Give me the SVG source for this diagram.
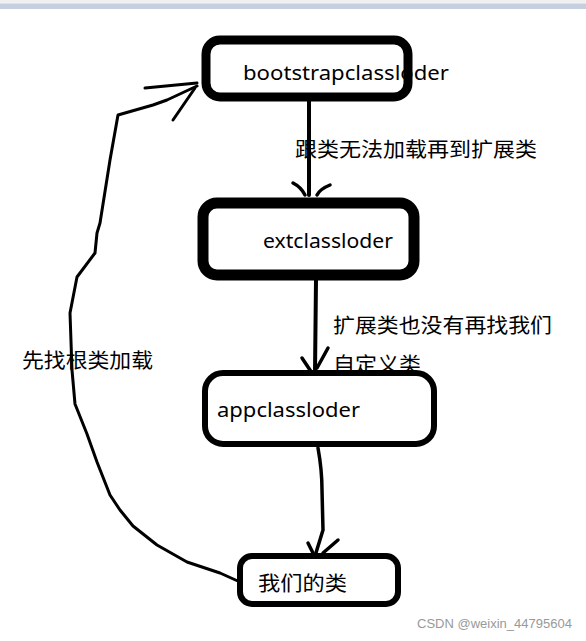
<svg xmlns="http://www.w3.org/2000/svg" width="586" height="641" viewBox="0 0 586 641">
<style>
.t{font-family:"Noto Sans","Noto Sans CJK SC",sans-serif;fill:#000;}
.node{font-size:20px;}
.lbl{font-size:20px;}
.box{fill:none;stroke:#000;stroke-linejoin:round;}
.ln{fill:none;stroke:#000;stroke-linecap:round;stroke-linejoin:round;}
.wm{font-family:"Liberation Sans",sans-serif;font-size:12px;fill:#999;}
</style>
<rect x="0" y="0" width="586" height="641" fill="#fff"/>
<rect x="0" y="0" width="586" height="3.5" fill="#f0f0f0"/>
<rect x="0" y="3.5" width="586" height="5.5" fill="#c5cfe0"/>

<g id="labels">
<text class="t lbl" x="295" y="157" textLength="242" lengthAdjust="spacingAndGlyphs">跟类无法加载再到扩展类</text>
<text class="t lbl" x="333" y="333" textLength="219" lengthAdjust="spacingAndGlyphs">扩展类也没有再找我们</text>
<text class="t lbl" x="333" y="372" textLength="88" lengthAdjust="spacingAndGlyphs">自定义类</text>
<text class="t lbl" x="22" y="368" textLength="131" lengthAdjust="spacingAndGlyphs">先找根类加载</text>
</g>

<g id="connectors">
<path class="ln" stroke-width="4" d="M309 101 L309 195"/>
<path class="ln" stroke-width="3.5" d="M293 183 Q301 187 305 195 M330 185 Q320 189 317 195"/>
<path class="ln" stroke-width="4" d="M316 280 L315 372"/>
<path class="ln" stroke-width="3.5" d="M302 358 L312 373 M328 348 L317 368"/>
<path class="ln" stroke-width="3.5" d="M318 448 Q322 470 322 490 L323 530 L315 556"/>
<path class="ln" stroke-width="3.5" d="M308 543 L315 557 M338 540 L323 553"/>
<path class="ln" stroke-width="3" d="M240 582 L220 573 L187 562 L157 545 L133 526 L120 510 L110 495 L97 462 L87 434 L75 404 L72 370 L70 313 L77 277 L95 253 L97 233 L100 223 L110 160 L118 115 L153 105 L167 100 L197 86"/>
<path class="ln" stroke-width="3" d="M145 88 L197 83 M173 120 L195 88"/>
</g>

<g id="n1">
<text class="t node" x="243" y="80" textLength="206" lengthAdjust="spacingAndGlyphs">bootstrapclassloder</text>
<rect class="box" x="206" y="40" width="202" height="57" rx="14" stroke-width="9"/>
</g>
<g id="n2">
<rect class="box" x="203" y="203" width="211" height="72" rx="14" stroke-width="11"/>
<text class="t node" x="263" y="248" textLength="130" lengthAdjust="spacingAndGlyphs">extclassloder</text>
</g>
<g id="n3">
<rect class="box" x="205" y="373" width="229" height="71" rx="18" stroke-width="6" fill="#fff" style="fill:#fff"/>
<text class="t node" x="217" y="417" textLength="143" lengthAdjust="spacingAndGlyphs">appclassloder</text>
</g>
<g id="n4">
<rect class="box" x="240" y="556" width="158" height="48" rx="12" stroke-width="6" style="fill:#fff"/>
<text class="t node" x="258" y="591" font-size="22" textLength="89" lengthAdjust="spacingAndGlyphs">我们的类</text>
</g>

<text class="wm" x="417" y="628" textLength="155" lengthAdjust="spacingAndGlyphs">CSDN @weixin_44795604</text>
</svg>
